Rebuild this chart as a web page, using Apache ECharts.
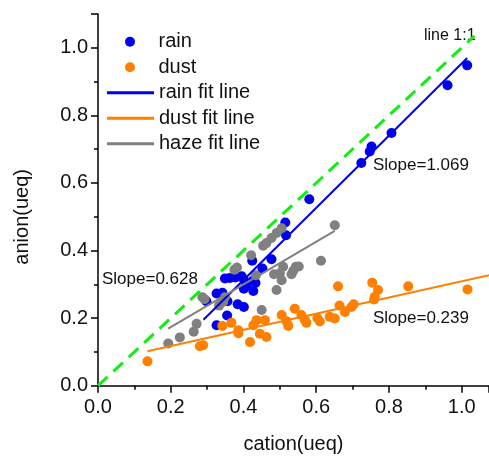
<!DOCTYPE html>
<html>
<head>
    <meta charset="utf-8">
    <title>cation vs anion</title>
    <script src="https://cdn.jsdelivr.net/npm/echarts@6/dist/echarts.min.js"></script>
    <style>
        html, body { margin: 0; padding: 0; background: #fff; }
    </style>
</head>
<body>
    <div id="main" style="width: 489px;height:456px;"></div>
    <script type="text/javascript">
        // points: [cation, anion]
        var rainPts = [
            [1.015, 0.948], [0.961, 0.889], [0.807, 0.748], [0.752, 0.708], [0.747, 0.693],
            [0.724, 0.659], [0.581, 0.552], [0.515, 0.483], [0.517, 0.445], [0.477, 0.374],
            [0.424, 0.370], [0.452, 0.347], [0.349, 0.317], [0.363, 0.319], [0.378, 0.320],
            [0.395, 0.324], [0.402, 0.312], [0.427, 0.312], [0.433, 0.304], [0.408, 0.295],
            [0.401, 0.287], [0.427, 0.280], [0.326, 0.273], [0.342, 0.275], [0.298, 0.250],
            [0.356, 0.250], [0.384, 0.241], [0.401, 0.233], [0.355, 0.208], [0.326, 0.179]
        ];
        var dustPts = [
            [0.136, 0.072], [0.280, 0.117], [0.289, 0.120], [0.342, 0.177], [0.367, 0.186],
            [0.386, 0.164], [0.386, 0.155], [0.418, 0.129], [0.427, 0.179], [0.436, 0.194],
            [0.445, 0.154], [0.459, 0.194], [0.463, 0.144], [0.505, 0.209], [0.518, 0.191],
            [0.523, 0.177], [0.541, 0.228], [0.559, 0.209], [0.569, 0.194], [0.573, 0.186],
            [0.603, 0.200], [0.610, 0.190], [0.637, 0.204], [0.651, 0.199], [0.660, 0.294],
            [0.664, 0.237], [0.679, 0.218], [0.697, 0.233], [0.703, 0.241], [0.754, 0.305],
            [0.770, 0.283], [0.761, 0.263], [0.759, 0.255], [0.853, 0.294], [1.016, 0.285]
        ];
        var hazePts = [
            [0.651, 0.475], [0.505, 0.466], [0.491, 0.452], [0.477, 0.437], [0.463, 0.422],
            [0.454, 0.414], [0.421, 0.386], [0.613, 0.370], [0.552, 0.353], [0.544, 0.352],
            [0.537, 0.340], [0.509, 0.352], [0.500, 0.333], [0.484, 0.330], [0.532, 0.330],
            [0.505, 0.312], [0.491, 0.283], [0.434, 0.327], [0.382, 0.350], [0.375, 0.343],
            [0.450, 0.224], [0.287, 0.262], [0.293, 0.256], [0.349, 0.262], [0.344, 0.248],
            [0.333, 0.237], [0.271, 0.183], [0.263, 0.160], [0.225, 0.143], [0.193, 0.125]
        ];
        // fit line end points
        var rainFit = [[0.29, 0.195], [1.015, 0.970]];
        var dustFit = [[0.136, 0.102], [1.075, 0.327]];
        var hazeFit = [[0.193, 0.169], [0.651, 0.458]];
        var oneToOne = [[0, 0], [1.035, 1.035]];
        var slopeText = ['Slope=1.069', 'Slope=0.628', 'Slope=0.239'];

        var font = '"Liberation Sans", Arial, sans-serif';
        var myChart = echarts.init(document.getElementById('main'));

        function fitSeries(name, data, color) {
            return {
                name: name, type: 'line', data: data, symbol: 'none',
                lineStyle: { color: color, width: 2 }, itemStyle: { color: color },
                silent: true, z: 3
            };
        }
        function dots(name, data, color) {
            return {
                name: name, type: 'scatter', data: data, symbol: 'circle', symbolSize: 10,
                itemStyle: { color: color, opacity: 1 }, z: 2
            };
        }

        var option = {
            animation: false,
            grid: { left: 98, right: 0, top: 14, bottom: 70.3, outerBoundsMode: 'none' },
            xAxis: {
                type: 'value', min: 0, max: 1.075, interval: 0.2,
                name: 'cation(ueq)', nameLocation: 'middle', nameGap: 49,
                nameTextStyle: { fontFamily: font, fontSize: 20, color: '#111' },
                axisLine: { onZero: false, lineStyle: { color: '#000', width: 1.5 } },
                axisTick: { inside: false, length: 7, lineStyle: { color: '#000', width: 1.5 } },
                minorTick: { show: true, splitNumber: 2, length: 4, lineStyle: { color: '#000', width: 1.5 } },
                axisLabel: {
                    margin: 12, fontFamily: font, fontSize: 20, color: '#111', showMaxLabel: false,
                    formatter: function (v) { return v.toFixed(1); }
                },
                splitLine: { show: false }
            },
            yAxis: {
                type: 'value', min: 0, max: 1.1, interval: 0.2,
                name: 'anion(ueq)', nameLocation: 'middle', nameGap: 66, nameRotate: 90,
                nameTextStyle: { fontFamily: font, fontSize: 20, color: '#111', padding: [0, 34, 0, 0] },
                axisLine: { onZero: false, lineStyle: { color: '#000', width: 1.5 } },
                axisTick: { inside: false, length: 7, lineStyle: { color: '#000', width: 1.5 } },
                minorTick: { show: true, splitNumber: 2, length: 4, lineStyle: { color: '#000', width: 1.5 } },
                axisLabel: {
                    margin: 10, fontFamily: font, fontSize: 20, color: '#111', showMaxLabel: false,
                    formatter: function (v) { return v.toFixed(1); }
                },
                splitLine: { show: false }
            },
            legend: [{
                data: [{ name: 'rain', icon: 'circle' }, { name: 'dust', icon: 'circle' }],
                orient: 'vertical', left: 125, top: 31.7, padding: 0,
                itemWidth: 47, itemHeight: 10, itemGap: 5.5,
                textStyle: { fontFamily: font, fontSize: 20, lineHeight: 20, color: '#111' }
            }, {
                data: [
                    { name: 'rain fit line', icon: 'rect' },
                    { name: 'dust fit line', icon: 'rect' },
                    { name: 'haze fit line', icon: 'rect' }
                ],
                orient: 'vertical', left: 107, top: 82.7, padding: 0,
                itemWidth: 47, itemHeight: 3, itemGap: 5.5,
                textStyle: { fontFamily: font, fontSize: 20, lineHeight: 20, color: '#111' }
            }],
            graphic: [
                { type: 'text', left: 424, top: 28, style: { text: 'line 1:1', font: '16px ' + font, fill: '#111' } },
                { type: 'text', left: 373, top: 157, style: { text: slopeText[0], font: '17px ' + font, fill: '#111' } },
                { type: 'text', left: 102, top: 271, style: { text: slopeText[1], font: '17px ' + font, fill: '#111' } },
                { type: 'text', left: 373, top: 310, style: { text: slopeText[2], font: '17px ' + font, fill: '#111' } }
            ],
            series: [
                dots('rain', rainPts, '#0000ee'),
                dots('dust', dustPts, '#ff8000'),
                dots('haze', hazePts, '#808080'),
                fitSeries('rain fit line', rainFit, '#0000ee'),
                fitSeries('dust fit line', dustFit, '#ff8000'),
                fitSeries('haze fit line', hazeFit, '#808080'),
                {
                    name: 'line 1:1', type: 'line', data: oneToOne, symbol: 'none', silent: true, z: 4,
                    lineStyle: { color: '#11ee11', width: 3, type: [13, 8] }
                }
            ]
        };

        myChart.setOption(option);
    </script>
</body>
</html>
